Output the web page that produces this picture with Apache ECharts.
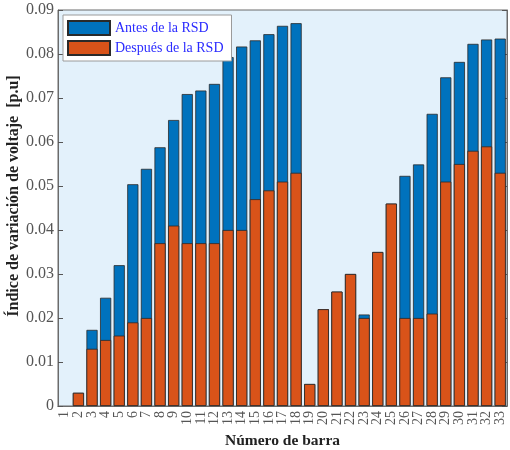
<!DOCTYPE html>
<html>
<head>
<meta charset="utf-8">
<script src="https://cdn.jsdelivr.net/npm/echarts@6/dist/echarts.min.js"></script>
<style>
  html, body { margin: 0; padding: 0; background: #ffffff; }
  #chart { width: 510px; height: 450px; }
</style>
</head>
<body>
<div id="chart"></div>
<script>
// Bus numbers along the feeder
const barras = ['1','2','3','4','5','6','7','8','9','10','11','12','13','14','15','16','17',
  '18','19','20','21','22','23','24','25','26','27','28','29','30','31','32','33'];

// Voltage variation index [p.u] before the RSD
const antes = [0, 0.003, 0.0173, 0.0246, 0.032, 0.0504, 0.0539, 0.0588, 0.065, 0.0709,
  0.0717, 0.0732, 0.0793, 0.0817, 0.0831, 0.0845, 0.0864, 0.087, 0.005, 0.022, 0.026,
  0.030, 0.0208, 0.035, 0.046, 0.0523, 0.0549, 0.0664, 0.0747, 0.0782, 0.0823, 0.0833, 0.0835];

// Voltage variation index [p.u] after the RSD
const despues = [0, 0.003, 0.013, 0.015, 0.016, 0.019, 0.020, 0.037, 0.041, 0.037,
  0.037, 0.037, 0.040, 0.040, 0.047, 0.049, 0.051, 0.053, 0.005, 0.022, 0.026,
  0.030, 0.020, 0.035, 0.046, 0.020, 0.020, 0.021, 0.051, 0.055, 0.058, 0.059, 0.053];

const serif = 'Liberation Serif';
const axisGray = '#6b6b6b';

// zero-height bars get no outline so they leave no stray line on the axis
const toBars = vals => vals.map(v => (v === 0 ? { value: v, itemStyle: { borderWidth: 0 } } : v));

const chart = echarts.init(document.getElementById('chart'), null, { renderer: 'canvas' });

chart.setOption({
  backgroundColor: '#ffffff',
  animation: false,
  grid: {
    left: 58, right: 3, top: 10, bottom: 44,
    outerBoundsMode: 'none',
    containLabel: false,
    show: true, backgroundColor: '#e3f1fb', borderColor: axisGray, borderWidth: 1
  },
  legend: {
    orient: 'vertical',
    left: 63, top: 15,
    icon: 'rect',
    itemWidth: 42, itemHeight: 14, itemGap: 4,
    padding: [5, 8, 5, 4],
    backgroundColor: '#ffffff',
    borderColor: '#9a9a9a', borderWidth: 1,
    textStyle: { fontFamily: serif, fontSize: 14, color: '#2b2bff' },
    data: ['Antes de la RSD', 'Después de la RSD']
  },
  xAxis: [{
    type: 'category',
    data: barras,
    name: 'Número de barra',
    nameLocation: 'middle',
    nameGap: 27,
    nameMoveOverlap: false,
    nameTextStyle: { fontFamily: serif, fontSize: 15.5, fontWeight: 'bold', color: '#222' },
    axisLine: { lineStyle: { color: axisGray } },
    axisTick: { inside: true, alignWithLabel: true, length: 4, lineStyle: { color: '#444' } },
    axisLabel: { rotate: 90, interval: 0, fontFamily: serif, fontSize: 14, color: '#555', margin: 5 }
  }, {
    type: 'category',
    data: barras,
    position: 'top',
    axisLine: { lineStyle: { color: axisGray } },
    axisTick: { inside: true, alignWithLabel: true, length: 4, lineStyle: { color: '#555' } },
    axisLabel: { show: false }
  }],
  yAxis: [{
    type: 'value',
    min: 0, max: 0.09, interval: 0.01,
    name: 'Índice de variación de voltaje  [p.u]',
    nameLocation: 'middle',
    nameGap: 36,
    nameMoveOverlap: false,
    nameTextStyle: {
      fontFamily: serif, fontSize: 16, fontWeight: 'bold', color: '#222',
      padding: [0, 0, 0, 24]
    },
    axisLine: { show: true, lineStyle: { color: axisGray } },
    axisTick: { show: true, inside: true, length: 5, lineStyle: { color: '#555' } },
    splitLine: { show: false },
    axisLabel: {
      fontFamily: serif, fontSize: 16, color: '#555', margin: 4,
      formatter: v => (v === 0 ? '0' : v.toFixed(2))
    }
  }, {
    type: 'value',
    min: 0, max: 0.09, interval: 0.01,
    position: 'right',
    axisLine: { show: true, lineStyle: { color: axisGray } },
    axisTick: { show: true, inside: true, length: 5, lineStyle: { color: '#555' } },
    splitLine: { show: false },
    axisLabel: { show: false }
  }],
  series: [{
    name: 'Antes de la RSD',
    type: 'bar',
    data: toBars(antes),
    barWidth: '82%',
    barGap: '-100%',
    itemStyle: { color: '#0072bd', borderColor: '#2a2a2a', borderWidth: 0.8 }
  }, {
    name: 'Después de la RSD',
    type: 'bar',
    data: toBars(despues),
    barWidth: '82%',
    barGap: '-100%',
    itemStyle: { color: '#d95319', borderColor: '#2a2a2a', borderWidth: 0.8 }
  }]
});
</script>
</body>
</html>
